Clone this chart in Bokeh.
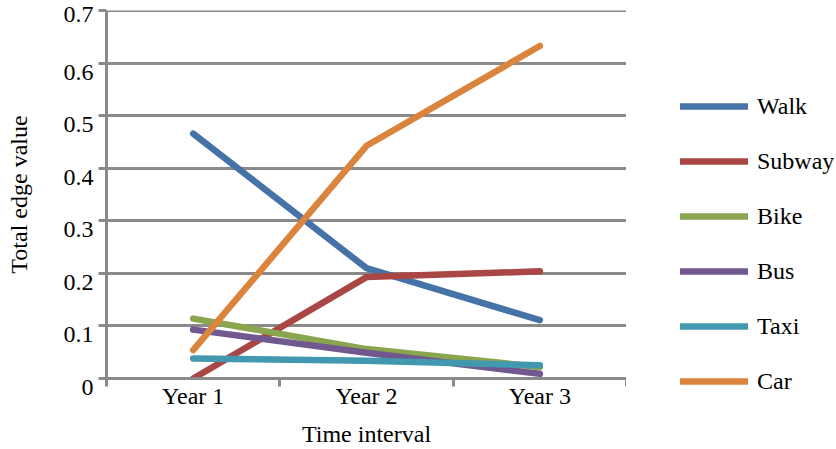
import math

from bokeh.plotting import figure
from bokeh.layouts import row
from bokeh.models import (FixedTicker, CustomJSTickFormatter, Legend, LegendItem,
                          Range1d)
from bokeh.embed import file_html
from bokeh.resources import INLINE

# Time intervals (categories) and mode-of-transport series
intervals = ["Year 1", "Year 2", "Year 3"]
walk = [0.466, 0.210, 0.111]
subway = [0.0, 0.193, 0.204]
bike = [0.114, 0.056, 0.022]
bus = [0.093, 0.049, 0.009]
taxi = [0.038, 0.034, 0.025]
car = [0.054, 0.443, 0.633]

series_names = ["Walk", "Subway", "Bike", "Bus", "Taxi", "Car"]
series_values = [walk, subway, bike, bus, taxi, car]
series_colors = ["#4572A7", "#AA4643", "#89A54E", "#71588F", "#4198AF", "#DB843D"]

y_ticks = [0.0, 0.1, 0.2, 0.3, 0.4, 0.5, 0.6, 0.7]

FONT = "Liberation Serif"
FSIZE = "24px"
GRID = "#8a8a8a"
LINE_W = 6.5

# each interval occupies one unit band; points sit at the band centres
xs = [i + 0.5 for i in range(len(intervals))]

p = figure(width=626, height=449, output_backend="svg", toolbar_location=None,
           x_range=Range1d(0, len(intervals)), y_range=Range1d(0, 0.7005),
           min_border_left=106, min_border_right=0,
           min_border_top=10, min_border_bottom=71)
p.outline_line_color = None
p.background_fill_color = "white"
p.border_fill_color = "white"

for vals, col in zip(series_values, series_colors):
    p.line(xs, vals, line_color=col, line_width=LINE_W, line_cap="round",
           line_join="round")

# x axis: labels at band centres, tick marks on band boundaries
p.xaxis.ticker = FixedTicker(ticks=xs, minor_ticks=list(range(len(intervals) + 1)))
p.xaxis.major_label_overrides = {x: lab for x, lab in zip(xs, intervals)}
p.xaxis.major_tick_line_color = None
p.xaxis.major_tick_out = 0
p.xaxis.major_tick_in = 0
p.xaxis.minor_tick_line_color = GRID
p.xaxis.minor_tick_line_width = 3
p.xaxis.minor_tick_out = 8
p.xaxis.minor_tick_in = 0
p.xaxis.axis_line_color = GRID
p.xaxis.axis_line_width = 3
p.xaxis.major_label_text_font = FONT
p.xaxis.major_label_text_font_size = FSIZE
p.xaxis.major_label_text_color = "black"
p.xaxis.major_label_standoff = -4
p.xaxis.axis_label = "Time interval"
p.xaxis.axis_label_text_font = FONT
p.xaxis.axis_label_text_font_size = FSIZE
p.xaxis.axis_label_text_font_style = "normal"
p.xaxis.axis_label_text_color = "black"
p.xaxis.axis_label_standoff = 9

# y axis: value labels hang just below their grid line (blank first line);
# the top label has no room above it, so it stays on a single line
p.yaxis.ticker = FixedTicker(ticks=y_ticks, minor_ticks=[])
p.yaxis.formatter = CustomJSTickFormatter(
    code="""
    const v = Math.round(tick * 10) / 10;
    const s = v === 0 ? '0' : v.toString();
    return v > 0.65 ? s : '\\n' + s;
    """)
p.yaxis.major_label_text_line_height = 0.65
p.yaxis.axis_line_color = GRID
p.yaxis.axis_line_width = 3
p.yaxis.major_tick_line_color = GRID
p.yaxis.major_tick_line_width = 3
p.yaxis.major_tick_out = 8
p.yaxis.major_tick_in = 0
p.yaxis.major_label_text_font = FONT
p.yaxis.major_label_text_font_size = FSIZE
p.yaxis.major_label_text_color = "black"
p.yaxis.major_label_standoff = 5
p.yaxis.axis_label = "Total edge value"
p.yaxis.axis_label_text_font = FONT
p.yaxis.axis_label_text_font_size = FSIZE
p.yaxis.axis_label_text_font_style = "normal"
p.yaxis.axis_label_text_color = "black"
p.yaxis.axis_label_standoff = 29

p.xgrid.grid_line_color = None
p.ygrid.ticker = FixedTicker(ticks=y_ticks[1:])
p.ygrid.grid_line_color = GRID
p.ygrid.grid_line_width = 3

# legend panel to the right of the chart
leg = figure(width=210, height=449, output_backend="svg", toolbar_location=None,
             x_range=Range1d(0, 1), y_range=Range1d(0, 1),
             x_axis_type=None, y_axis_type=None,
             min_border=0, min_border_left=0, min_border_right=0,
             min_border_top=0, min_border_bottom=0)
leg.frame_align = False
leg.outline_line_color = None
leg.background_fill_color = "white"
leg.border_fill_color = "white"

items = []
for name, col in zip(series_names, series_colors):
    # placeholder renderer that carries the line style for the legend swatch
    r = leg.line([math.nan], [math.nan], line_color=col, line_width=LINE_W,
                 line_cap="round")
    items.append(LegendItem(label=name, renderers=[r]))

legend = Legend(
    items=items,
    location=(54, 54),
    orientation="vertical",
    glyph_width=68, glyph_height=28, label_height=28,
    label_standoff=9, spacing=27, padding=0, margin=0,
    label_text_font=FONT, label_text_font_size=FSIZE,
    label_text_color="black",
    border_line_color=None, background_fill_alpha=0,
)
leg.add_layout(legend, "center")

layout = row(p, leg, spacing=0)
open("out.html", "w").write(file_html(layout, INLINE))
